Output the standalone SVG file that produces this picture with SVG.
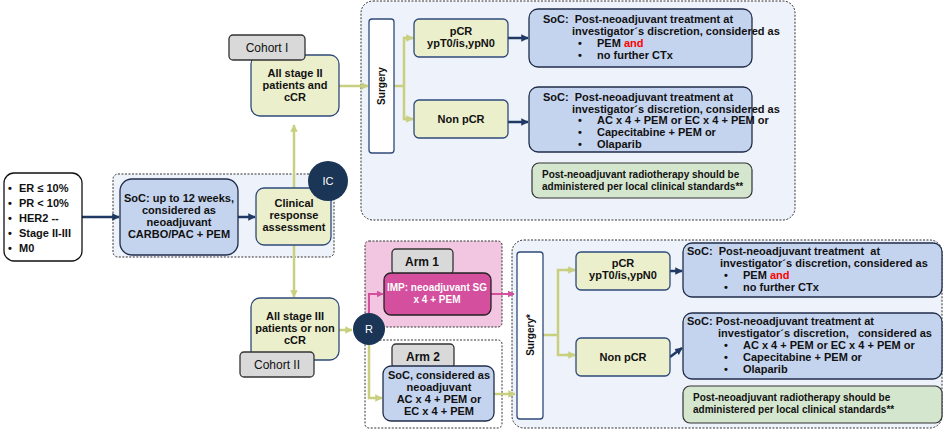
<svg xmlns="http://www.w3.org/2000/svg" width="945" height="430" viewBox="0 0 945 430">
<defs>
<style>
text{font-family:"Liberation Sans",Arial,sans-serif;font-weight:bold;font-size:11px;fill:#111}
.c{text-anchor:middle}
.cont{fill:#eef2fa;stroke:#333;stroke-width:1;stroke-dasharray:2 1.5}
.blue{fill:#c5d4ee;stroke:#1f2d4a;stroke-width:1.3}
.yel{fill:#ebefcc;stroke:#2f4a7a;stroke-width:1.3}
.gray{fill:#d9d9d9;stroke:#333;stroke-width:1.3}
.note{fill:#d5e6cf;stroke:#333;stroke-width:1.2}
.wh{fill:#fff;stroke:#2f4a7a;stroke-width:1.3}
.g{stroke:#c8d080;stroke-width:2.5;fill:none}
.n{stroke:#1f3864;stroke-width:2.5;fill:none}
.p{stroke:#d44f9e;stroke-width:2;fill:none}
.red{fill:#ff0000}
</style>
<marker id="ag" viewBox="0 0 10 10" refX="9" refY="5" markerWidth="3" markerHeight="3" orient="auto"><path d="M0 0L10 5L0 10z" fill="#c8d080"/></marker>
<marker id="an" viewBox="0 0 10 10" refX="9" refY="5" markerWidth="3" markerHeight="3" orient="auto"><path d="M0 0L10 5L0 10z" fill="#1f3864"/></marker>
<marker id="ap" viewBox="0 0 10 10" refX="9" refY="5" markerWidth="3.5" markerHeight="3.5" orient="auto"><path d="M0 0L10 5L0 10z" fill="#d44f9e"/></marker>
</defs>
<rect width="945" height="430" fill="#fff"/>
<g id="containers">
<rect class="cont" x="113" y="174" width="221" height="83" rx="5"/>
<rect class="cont" x="361" y="1" width="434" height="219" rx="12"/>
<rect x="365" y="241" width="137" height="86" rx="4" fill="#f2c6e0" stroke="#333" stroke-dasharray="2 1.5"/>
<rect x="365" y="340" width="137" height="88" rx="4" fill="#fff" stroke="#333" stroke-dasharray="2 1.5"/>
<rect class="cont" x="512" y="240" width="430" height="188" rx="12"/>
</g>
<g id="connectors">
<path class="n" d="M82 217H119" marker-end="url(#an)"/>
<path class="n" d="M238 217H255" marker-end="url(#an)"/>
<path class="g" d="M294 188V125" marker-end="url(#ag)"/>
<path class="g" d="M294 245V297" marker-end="url(#ag)"/>
<path class="g" d="M339 86H368" marker-end="url(#ag)"/>
<path class="g" d="M394 86H404M404 86V38H413M404 86V119H413"/>
<path class="g" d="M404 38H413" marker-end="url(#ag)"/>
<path class="g" d="M404 119H413" marker-end="url(#ag)"/>
<path class="n" d="M508 38H528" marker-end="url(#an)"/>
<path class="n" d="M508 122H528" marker-end="url(#an)"/>
<path class="g" d="M339 330H352" marker-end="url(#ag)"/>
<path class="p" d="M369 313V294H383" marker-end="url(#ap)"/>
<path class="g" d="M369 345V398H382" marker-end="url(#ag)"/>
<path class="p" d="M491 294H514" marker-end="url(#ap)"/>
<path class="g" d="M494 394H515" marker-end="url(#ag)"/>
<path class="g" d="M543 335H558V270H575M558 335V355H575"/>
<path class="g" d="M566 270H575" marker-end="url(#ag)"/>
<path class="g" d="M566 355H575" marker-end="url(#ag)"/>
<path class="n" d="M670 271H682" marker-end="url(#an)"/>
<path class="n" d="M670 357L682 348" marker-end="url(#an)"/>
</g>
<g id="eligibility">
<rect x="4" y="173" width="78" height="88" rx="10" fill="#fff" stroke="#111" stroke-width="1.3"/>
<text x="8" y="192">•<tspan x="19">ER ≤ 10%</tspan></text>
<text x="8" y="207">•<tspan x="19">PR &lt; 10%</tspan></text>
<text x="8" y="222">•<tspan x="19">HER2 --</tspan></text>
<text x="8" y="237">•<tspan x="19">Stage II-III</tspan></text>
<text x="8" y="252">•<tspan x="19">M0</tspan></text>
</g>
<g id="soc-neo">
<rect class="blue" x="120" y="179" width="118" height="76" rx="12"/>
<text class="c" x="179" y="202">SoC: up to 12 weeks,</text>
<text class="c" x="179" y="214">considered as</text>
<text class="c" x="179" y="226">neoadjuvant</text>
<text class="c" x="179" y="238">CARBO/PAC + PEM</text>
</g>
<g id="clinical">
<rect class="yel" x="256" y="188" width="75" height="57" rx="8"/>
<text class="c" x="294" y="207">Clinical</text>
<text class="c" x="294" y="219">response</text>
<text class="c" x="294" y="231">assessment</text>
</g>
<g id="ic"><circle cx="328" cy="181" r="20" fill="#1b3557"/><text class="c" x="328" y="185" style="fill:#fff;font-weight:normal">IC</text></g>
<g id="cohort1">
<rect class="yel" x="251" y="55" width="88" height="61" rx="9"/>
<text class="c" x="295" y="77">All stage II</text>
<text class="c" x="295" y="89">patients and</text>
<text class="c" x="295" y="101">cCR</text>
<rect class="gray" x="229" y="35" width="76" height="25" rx="4"/>
<text class="c" x="267" y="52" style="font-size:12px;font-weight:normal">Cohort I</text>
</g>
<g id="surgery1"><rect class="wh" x="369" y="19" width="25" height="134" rx="3"/><text class="c" transform="translate(385 86) rotate(-90)" style="font-size:10px">Surgery</text></g>
<g id="pcr1"><rect class="yel" x="414" y="19" width="94" height="38" rx="5"/><text class="c" x="461" y="35">pCR</text><text class="c" x="461" y="47">ypT0/is,ypN0</text></g>
<g id="npcr1"><rect class="yel" x="414" y="100" width="94" height="38" rx="5"/><text class="c" x="461" y="123">Non pCR</text></g>
<g id="soc1">
<rect class="blue" x="529" y="9" width="223" height="58" rx="9"/>
<text x="543" y="23" xml:space="preserve">SoC:  Post-neoadjuvant treatment at</text>
<text x="572" y="35">investigator´s discretion, considered as</text>
<text x="578" y="47">•<tspan x="597">PEM </tspan><tspan class="red">and</tspan></text>
<text x="578" y="59">•<tspan x="597">no further CTx</tspan></text>
</g>
<g id="soc2">
<rect class="blue" x="529" y="87" width="223" height="65" rx="9"/>
<text x="543" y="101" xml:space="preserve">SoC:  Post-neoadjuvant treatment at</text>
<text x="572" y="113">investigator´s discretion, considered as</text>
<text x="578" y="124">•<tspan x="597">AC x 4 + PEM or EC x 4 + PEM or</tspan></text>
<text x="578" y="136">•<tspan x="597">Capecitabine + PEM or</tspan></text>
<text x="578" y="148">•<tspan x="597">Olaparib</tspan></text>
</g>
<g id="note1"><rect class="note" x="532" y="163" width="220" height="35" rx="7"/><text x="542" y="178" style="font-size:10px">Post-neoadjuvant radiotherapy should be</text><text x="542" y="190" style="font-size:10px">administered per local clinical standards**</text></g>
<g id="cohort2">
<rect class="yel" x="251" y="298" width="88" height="62" rx="9"/>
<text class="c" x="295" y="320">All stage III</text>
<text class="c" x="295" y="332">patients or non</text>
<text class="c" x="295" y="344">cCR</text>
<rect class="gray" x="240" y="352" width="74" height="25" rx="4"/>
<text class="c" x="277" y="369" style="font-size:12px;font-weight:normal">Cohort II</text>
</g>
<g id="r"><circle cx="369" cy="329" r="16" fill="#1b3557"/><text class="c" x="369" y="333" style="fill:#fff;font-weight:normal">R</text></g>
<g id="arm1">
<rect class="gray" x="392" y="249" width="61" height="25" rx="4"/>
<text class="c" x="422" y="266" style="font-size:12px">Arm 1</text>
<rect x="384" y="273" width="107" height="42" rx="7" fill="#d44f9e" stroke="#222" stroke-width="1.3"/>
<text class="c" x="437" y="291" style="fill:#fff;font-size:10px">IMP: neoadjuvant SG</text>
<text class="c" x="437" y="303" style="fill:#fff;font-size:10px">x 4 + PEM</text>
</g>
<g id="arm2">
<rect class="gray" x="392" y="344" width="62" height="24" rx="4"/>
<text class="c" x="423" y="361" style="font-size:12px">Arm 2</text>
<rect class="blue" x="383" y="366" width="111" height="55" rx="8"/>
<text class="c" x="439" y="379">SoC, considered as</text>
<text class="c" x="439" y="391">neoadjuvant</text>
<text class="c" x="439" y="403">AC x 4 + PEM or</text>
<text class="c" x="439" y="415">EC x 4 + PEM</text>
</g>
<g id="surgery2"><rect class="wh" x="517" y="252" width="26" height="167" rx="3"/><text class="c" transform="translate(534 335) rotate(-90)" style="font-size:10px">Surgery*</text></g>
<g id="pcr2"><rect class="yel" x="576" y="252" width="94" height="38" rx="5"/><text class="c" x="623" y="267">pCR</text><text class="c" x="623" y="279">ypT0/is,ypN0</text></g>
<g id="npcr2"><rect class="yel" x="576" y="338" width="94" height="38" rx="5"/><text class="c" x="623" y="361">Non pCR</text></g>
<g id="soc3">
<rect class="blue" x="683" y="243" width="259" height="54" rx="9"/>
<text x="687" y="255" xml:space="preserve">SoC:  Post-neoadjuvant treatment  at</text>
<text x="720" y="267">investigator´s discretion, considered as</text>
<text x="724" y="279">•<tspan x="743">PEM </tspan><tspan class="red">and</tspan></text>
<text x="724" y="291">•<tspan x="743">no further CTx</tspan></text>
</g>
<g id="soc4">
<rect class="blue" x="683" y="313" width="259" height="66" rx="9"/>
<text x="687" y="325">SoC: Post-neoadjuvant treatment at</text>
<text x="718" y="337" xml:space="preserve">investigator´s discretion,   considered as</text>
<text x="724" y="349">•<tspan x="743">AC x 4 + PEM or EC x 4 + PEM or</tspan></text>
<text x="724" y="361">•<tspan x="743">Capecitabine + PEM or</tspan></text>
<text x="724" y="373">•<tspan x="743">Olaparib</tspan></text>
</g>
<g id="note2"><rect class="note" x="683" y="386" width="259" height="37" rx="7"/><text x="693" y="401" style="font-size:10px">Post-neoadjuvant radiotherapy should be</text><text x="693" y="413" style="font-size:10px">administered per local clinical standards**</text></g>
</svg>
